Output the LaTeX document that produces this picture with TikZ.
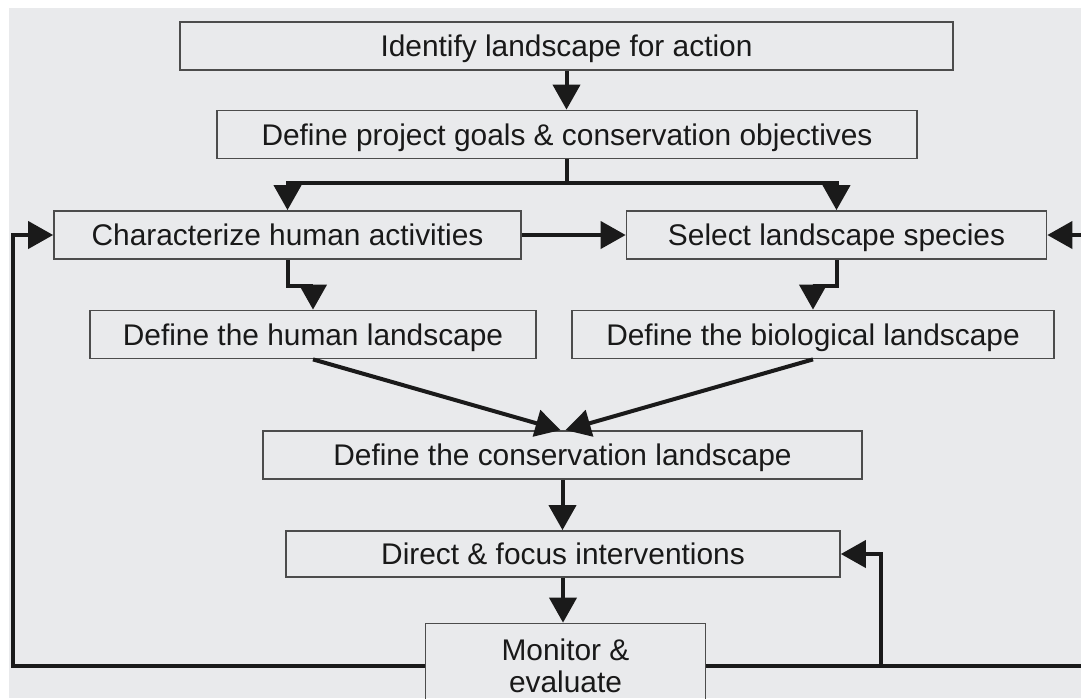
\documentclass[tikz,border=0pt]{standalone}
\usepackage{fontspec}
\setmainfont{Liberation Sans}
\usepackage{xcolor}
\usetikzlibrary{arrows.meta, positioning, calc}
\definecolor{paper}{RGB}{233,234,236}
\definecolor{ink}{RGB}{26,26,26}

\begin{document}
\begin{tikzpicture}[
      x=0.02cm, y=-0.02cm,
      font=\fontsize{17}{18.5}\selectfont,
      stepbox/.style={draw=black!70, line width=1pt, minimum height=0.96cm,
                      inner sep=0pt, align=center, text=black!90},
      oneline/.style={stepbox, text height=12.5pt, text depth=0pt},
      flow/.style={-{Triangle[width=0.54cm, length=0.5cm]}, ink, line width=0.08cm},
      link/.style={ink, line width=0.08cm},
    ]
    % page and grey panel
    \useasboundingbox (0,0) rectangle (1081,698);
    \fill[white] (0,0) rectangle (1081,698);
    \fill[paper] (9,8) rectangle (1081,698);
    \clip (0,0) rectangle (1081,698);

    % --- boxes ---
    \node[oneline, minimum width=15.46cm] (ident) at (566.5,46)  {Identify landscape for action};
    \node[oneline, minimum width=14cm]    (goals) at (567,134.5) {Define project goals \& conservation objectives};
    \node[oneline, minimum width=9.34cm]  (human) at (287.5,235) {Characterize human activities};
    \node[oneline, minimum width=8.4cm]   (species) at (836.5,235) {Select landscape species};
    \node[oneline, minimum width=8.92cm]  (humland) at (313,334.5) {Define the human landscape};
    \node[oneline, minimum width=9.64cm]  (bioland) at (813,334.5) {Define the biological landscape};
    \node[oneline, minimum width=11.98cm] (consland) at (562.5,455) {Define the conservation landscape};
    \node[oneline, minimum width=11.08cm, minimum height=0.92cm] (direct) at (563,554) {Direct \& focus interventions};
    \node[stepbox, minimum width=5.6cm, minimum height=1.7cm] (monitor) at (565.5,666) {Monitor \&\\evaluate};

    % helper points for the branch and the feedback loops
    \coordinate (split) at (567,183);
    \coordinate (lfb) at (13,0);
    \coordinate (rfb) at (1100,0);
    \coordinate (mfb) at (881,0);

    % --- main chain ---
    \draw[flow] (ident.south) -- (ident.south |- goals.north);
    \draw[link] (goals.south) -- (split);
    \draw[flow] (split) -| (human.north);
    \draw[flow] (split) -| (species.north);
    \draw[flow] (human.east) -- (species.west);
    \draw[flow] (human.south) -- ++(0,26) -| (humland.north);
    \draw[flow] (species.south) -- ++(0,26) -| (bioland.north);
    \draw[flow] (humland.south) -- ([xshift=-0.04cm]consland.north);
    \draw[flow] (bioland.south) -- ([xshift=0.06cm]consland.north);
    \draw[flow] (consland.south) -- (consland.south |- direct.north);
    \draw[flow] (direct.south) -- (direct.south |- monitor.north);

    % --- feedback loops ---
    \draw[flow] (monitor.west) -| (lfb |- human.west) -- (human.west);
    \draw[flow] (monitor.east) -| (rfb |- species.east) -- (species.east);
    \draw[flow] (mfb |- monitor.east) |- (direct.east);
  \end{tikzpicture}
\end{document}
